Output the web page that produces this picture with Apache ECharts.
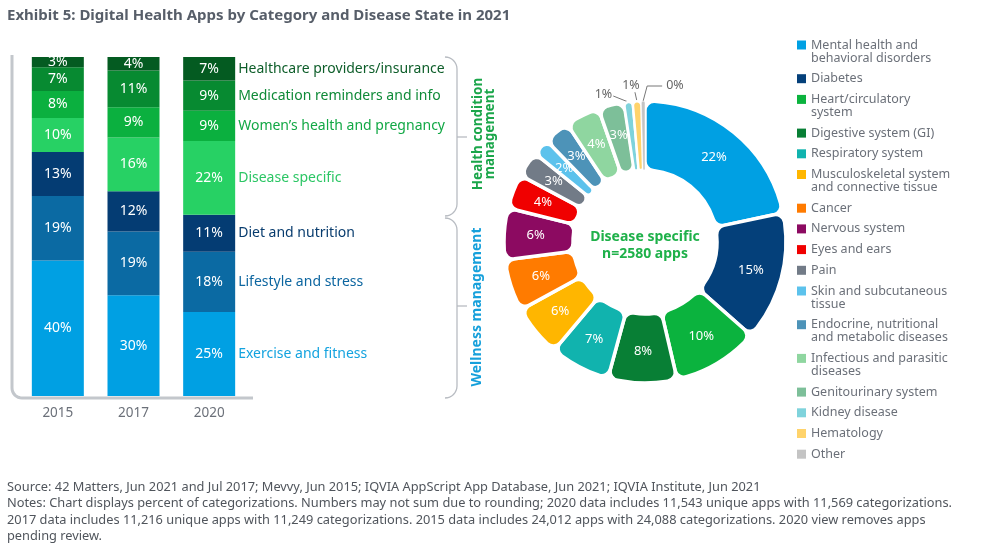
<!DOCTYPE html>
<html><head><meta charset="utf-8">
<script src="https://cdn.jsdelivr.net/npm/echarts@6/dist/echarts.min.js"></script>
<style>html,body{margin:0;padding:0;background:#fff}#c{width:996px;height:552px}</style>
</head><body><div id="c"></div>
<script>
// ---------- data ----------
const years = ['2015', '2017', '2020'];
const barCategories = ['Exercise and fitness', 'Lifestyle and stress', 'Diet and nutrition', 'Disease specific',
  'Women\u2019s health and pregnancy', 'Medication reminders and info', 'Healthcare providers/insurance'];
const exercise = [40, 30, 25];
const lifestyle = [19, 19, 18];
const diet = [13, 12, 11];
const diseaseSpecific = [10, 16, 22];
const womens = [8, 9, 9];
const medication = [7, 11, 9];
const providers = [3, 4, 7];
const barValues = [exercise, lifestyle, diet, diseaseSpecific, womens, medication, providers];

const diseaseNames = ['Mental health and behavioral disorders', 'Diabetes', 'Heart/circulatory system',
  'Digestive system (GI)', 'Respiratory system', 'Musculoskeletal system and connective tissue', 'Cancer',
  'Nervous system', 'Eyes and ears', 'Pain', 'Skin and subcutaneous tissue',
  'Endocrine, nutritional and metabolic diseases', 'Infectious and parasitic diseases', 'Genitourinary system',
  'Kidney disease', 'Hematology', 'Other'];
const diseaseValues = [22, 15, 10, 8, 7, 6, 6, 6, 4, 3, 2, 3, 4, 3, 1, 1, 0];
const legendLines = ['Mental health and\nbehavioral disorders', 'Diabetes', 'Heart/circulatory\nsystem',
  'Digestive system (GI)', 'Respiratory system', 'Musculoskeletal system\nand connective tissue', 'Cancer',
  'Nervous system', 'Eyes and ears', 'Pain', 'Skin and subcutaneous\ntissue',
  'Endocrine, nutritional\nand metabolic diseases', 'Infectious and parasitic\ndiseases', 'Genitourinary system',
  'Kidney disease', 'Hematology', 'Other'];
const centerText = 'Disease specific\nn=2580 apps';
const groupLabels = ['Health condition\nmanagement', 'Wellness management'];
const titleText = 'Exhibit 5: Digital Health Apps by Category and Disease State in 2021';
const footerText = 'Source: 42 Matters, Jun 2021 and Jul 2017; Mevvy, Jun 2015; IQVIA AppScript App Database, Jun 2021; IQVIA Institute, Jun 2021\n' +
  'Notes: Chart displays percent of categorizations. Numbers may not sum due to rounding; 2020 data includes 11,543 unique apps with 11,569 categorizations.\n' +
  '2017 data includes 11,216 unique apps with 11,249 categorizations. 2015 data includes 24,012 apps with 24,088 categorizations. 2020 view removes apps\n' +
  'pending review.';

// ---------- styles ----------
const FONT = "'Noto Sans', 'Open Sans', sans-serif";
const barColors = ['#00a0e3', '#0b6aa3', '#043c73', '#27d164', '#0bb03f', '#078a31', '#045b21'];
const barTextColors = ['#14a3df', '#0d66a0', '#083c6e', '#2cc665', '#12a845', '#0f8a38', '#0e5e2a'];
const pieColors = ['#00a0e3', '#04407a', '#0bb33e', '#087f35', '#11b3ae', '#ffb600', '#ff7b00', '#8c0a61',
  '#f00000', '#727b87', '#5cc2ec', '#4d93b8', '#8fd6a0', '#7dbf99', '#7fd3dc', '#ffd36b', '#c4c4c4'];

const totals = years.map((_, i) => barValues.reduce((s, arr) => s + arr[i], 0));

const barSeries = barValues.map((vals, k) => {
  const rich = { v: { width: 52, align: 'center', color: '#fff', fontSize: 14, fontFamily: FONT } };
  rich['n' + k] = { color: barTextColors[k], fontSize: 14, fontFamily: FONT, padding: [0, 0, 0, 3] };
  return {
    type: 'bar', name: barCategories[k], stack: 'total', barWidth: 52,
    itemStyle: { color: barColors[k] },
    emphasis: { disabled: true },
    label: {
      show: true, position: 'insideLeft', distance: 0, color: '#fff',
      formatter: p => {
        let s = '{v|' + vals[p.dataIndex] + '%}';
        if (p.dataIndex === years.length - 1) s += '{n' + k + '|' + barCategories[k] + '}';
        return s;
      },
      rich: rich
    },
    data: vals.map((v, i) => v / totals[i] * 100)
  };
});

const legendRich = {
  g: { width: 5 },
  p: { width: 14 },
  t: { fontSize: 12.5, color: '#6b7079', lineHeight: 13, fontFamily: FONT }
};
pieColors.forEach((c, i) => { legendRich['s' + i] = { width: 9, height: 9, backgroundColor: c }; });

const pieSeries = {
  type: 'pie', center: [645, 242], radius: [72, 141], startAngle: 90, clockwise: true,
  minAngle: 1.5, avoidLabelOverlap: false,
  itemStyle: { borderColor: '#fff', borderWidth: 3.5, borderRadius: 9 },
  emphasis: { disabled: true },
  label: { show: true, position: 'inside', formatter: '{c}%', color: '#fff', fontSize: 13, fontFamily: FONT },
  labelLine: { show: false },
  data: diseaseNames.map((n, i) => {
    const d = { name: n, value: diseaseValues[i], itemStyle: { color: pieColors[i] } };
    if (diseaseValues[i] <= 1) {
      d.label = { position: 'outside', color: '#666', fontSize: 12.5 };
      d.labelLine = { show: true, length: 8, length2: 6, lineStyle: { color: '#777', width: 1 } };
      d.itemStyle.borderWidth = diseaseValues[i] === 0 ? 0.5 : 2.5;
    }
    return d;
  }),
  labelLayout: function (p) {
    const i = p.dataIndex;
    if (diseaseValues[i] > 1) return {};
    const tip = (p.labelLinePoints && p.labelLinePoints[0]) ? p.labelLinePoints[0] : [p.rect.x + p.rect.width / 2, p.rect.y];
    const tx = tip[0], ty = tip[1];
    if (i === 14) {
      return { x: tx - 16, y: ty - 8, align: 'right', verticalAlign: 'middle',
        labelLinePoints: [[tx, ty], [tx - 15, ty - 6]] };
    } else if (i === 15) {
      return { x: tx - 6, y: ty - 16, align: 'center', verticalAlign: 'middle',
        labelLinePoints: [[tx, ty], [tx - 2, ty - 9]] };
    }
    return { x: tx + 23, y: ty - 16, align: 'left', verticalAlign: 'middle',
      labelLinePoints: [[tx, ty], [tx + 4, ty - 15], [tx + 19, ty - 15]] };
  }
};

// decorative rounded corner helper (frame & braces, not data marks)
function arcPts(cx, cy, r, a0, a1) {
  const pts = [];
  for (let s = 0; s <= 8; s++) {
    const a = a0 + (a1 - a0) * s / 8;
    pts.push([cx + r * Math.cos(a), cy + r * Math.sin(a)]);
  }
  return pts;
}
const H = Math.PI / 2;
const framePts = [[12, 55]].concat(arcPts(22, 388, 10, Math.PI, H)).concat([[253, 398]]);
function bracePts(x0, yTop, yBot, r) {
  return arcPts(x0, yTop + r, r, -H, 0).concat(arcPts(x0, yBot - r, r, 0, H));
}
const brace1 = bracePts(445, 57, 216, 12);
const brace2 = bracePts(445, 218, 398, 12);

const chart = echarts.init(document.getElementById('c'), null, { renderer: 'canvas' });
chart.setOption({
  animation: false,
  textStyle: { fontFamily: FONT },
  title: {
    text: titleText, left: 2, top: 3,
    textStyle: { fontSize: 15, fontWeight: 'bold', color: '#575e69', fontFamily: FONT }
  },
  grid: { left: 20, right: 749, top: 57, bottom: 156 },
  xAxis: {
    type: 'category', data: years,
    axisLine: { show: false }, axisTick: { show: false },
    axisLabel: { color: '#6b7079', fontSize: 13.5, margin: 10, fontFamily: FONT }
  },
  yAxis: { type: 'value', min: 0, max: 100, show: false },
  legend: {
    orient: 'vertical', left: 792, top: 38.5, padding: 0, itemGap: 7.7,
    icon: 'none', itemWidth: 0, itemHeight: 1, selectedMode: false,
    data: diseaseNames,
    formatter: name => {
      const i = diseaseNames.indexOf(name);
      const lines = legendLines[i].split('\n');
      let s = '{s' + i + '|}{g|}{t|' + lines[0] + '}';
      if (lines[1]) s += '\n{p|}{t|' + lines[1] + '}';
      return s;
    },
    textStyle: { rich: legendRich, fontSize: 12.5, color: '#6b7079', lineHeight: 13 }
  },
  graphic: [
    { type: 'polyline', silent: true, shape: { points: framePts },
      style: { stroke: '#c3c7cc', lineWidth: 3, fill: null } },
    { type: 'polyline', silent: true, shape: { points: brace1 },
      style: { stroke: '#b8bcc2', lineWidth: 1.3, fill: null } },
    { type: 'line', silent: true, shape: { x1: 457, y1: 137, x2: 467, y2: 137 },
      style: { stroke: '#b8bcc2', lineWidth: 1.3 } },
    { type: 'polyline', silent: true, shape: { points: brace2 },
      style: { stroke: '#b8bcc2', lineWidth: 1.3, fill: null } },
    { type: 'line', silent: true, shape: { x1: 457, y1: 306, x2: 467, y2: 306 },
      style: { stroke: '#b8bcc2', lineWidth: 1.3 } },
    { type: 'text', silent: true, x: 484, y: 134, rotation: Math.PI / 2,
      style: { text: groupLabels[0], align: 'center', verticalAlign: 'middle', fill: '#1aa64a',
        font: 'bold 13.5px ' + FONT, lineHeight: 12.5 } },
    { type: 'text', silent: true, x: 477, y: 307, rotation: Math.PI / 2,
      style: { text: groupLabels[1], align: 'center', verticalAlign: 'middle', fill: '#16a0db',
        font: 'bold 14px ' + FONT } },
    { type: 'text', silent: true, x: 645, y: 246,
      style: { text: centerText, align: 'center', verticalAlign: 'middle', fill: '#1fb14a',
        font: 'bold 14px ' + FONT, lineHeight: 17 } },
    { type: 'text', silent: true, x: 7, y: 479,
      style: { text: footerText, fill: '#50555c', font: '12.8px ' + FONT, lineHeight: 16.5, verticalAlign: 'top' } }
  ],
  series: barSeries.concat([pieSeries])
});
</script>
</body></html>
